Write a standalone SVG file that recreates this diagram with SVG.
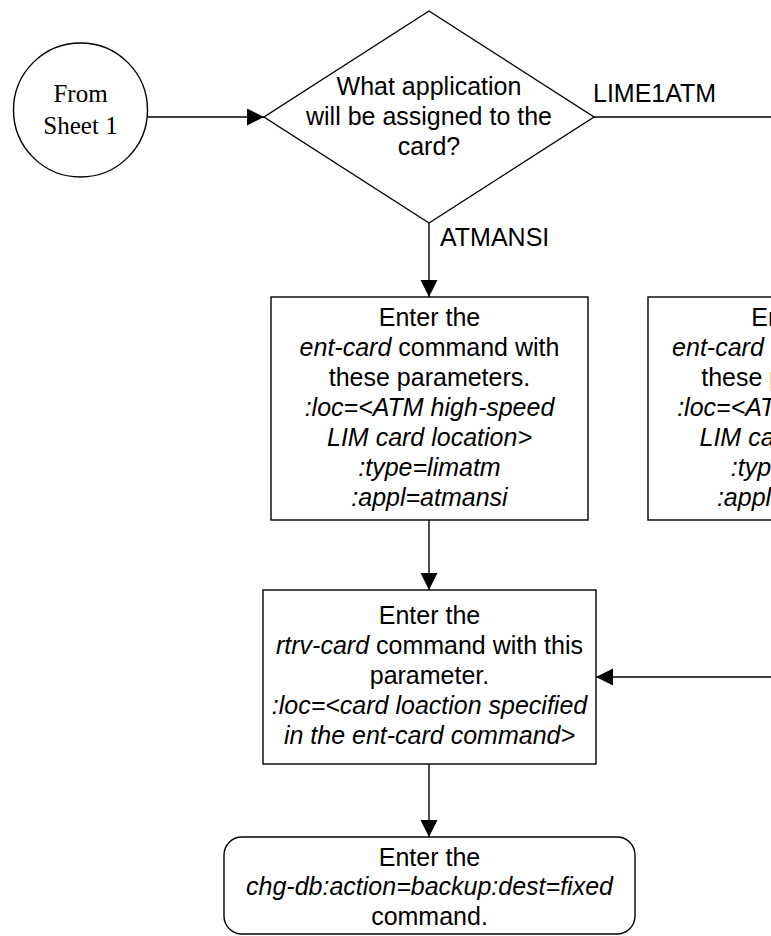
<svg xmlns="http://www.w3.org/2000/svg" width="771" height="936" viewBox="0 0 771 936">
<style>
.shape{fill:#fff;stroke:#000;stroke-width:1.4}
.conn{fill:none;stroke:#000;stroke-width:1.4}
.t{font-family:"Liberation Sans",Arial,sans-serif;font-size:25px;fill:#000;text-anchor:middle}
.lbl{font-family:"Liberation Sans",Arial,sans-serif;font-size:25px;fill:#000}
.serif{font-family:"Liberation Serif","Times New Roman",serif;font-size:25px;fill:#000;text-anchor:middle}
.i{font-style:italic}
</style>
<defs>
<marker id="arr" markerUnits="userSpaceOnUse" markerWidth="18" markerHeight="18" refX="17" refY="8.5" orient="auto">
<path d="M0,0 L17,8.5 L0,17 z" fill="#000"/>
</marker>
</defs>
<rect width="771" height="936" fill="#fff"/>
<g id="connectors">
<line class="conn" x1="148" y1="117" x2="264" y2="117" marker-end="url(#arr)"/>
<line class="conn" x1="594" y1="117" x2="771" y2="117"/>
<line class="conn" x1="429" y1="223" x2="429" y2="297" marker-end="url(#arr)"/>
<line class="conn" x1="429" y1="520" x2="429" y2="590" marker-end="url(#arr)"/>
<line class="conn" x1="771" y1="677" x2="596" y2="677" marker-end="url(#arr)"/>
<line class="conn" x1="429" y1="764" x2="429" y2="837" marker-end="url(#arr)"/>
<text class="lbl" x="593" y="102">LIME1ATM</text>
<text class="lbl" x="440" y="246">ATMANSI</text>
</g>
<g id="from-sheet1">
<circle class="shape" cx="80.5" cy="110" r="67"/>
<text class="serif" x="80.5" y="102">From</text>
<text class="serif" x="80.5" y="134">Sheet 1</text>
</g>
<g id="decision">
<polygon class="shape" points="429,11 594,117 429,223 264,117"/>
<text class="t" x="429" y="95">What application</text>
<text class="t" x="429" y="125">will be assigned to the</text>
<text class="t" x="429" y="155">card?</text>
</g>
<g id="ent-card-atmansi">
<rect class="shape" x="271" y="297" width="317" height="223"/>
<text class="t" x="429.5" y="326">Enter the</text>
<text class="t" x="429.5" y="356"><tspan class="i">ent-card</tspan> command with</text>
<text class="t" x="429.5" y="386">these parameters.</text>
<text class="t i" x="429.5" y="416">:loc=&lt;ATM high-speed</text>
<text class="t i" x="429.5" y="446">LIM card location&gt;</text>
<text class="t i" x="429.5" y="476">:type=limatm</text>
<text class="t i" x="429.5" y="506">:appl=atmansi</text>
</g>
<g id="ent-card-lime1atm">
<rect class="shape" x="648" y="297" width="317" height="223"/>
<text class="t" x="802" y="326">Enter the</text>
<text class="t" x="802" y="356"><tspan class="i">ent-card</tspan> command with</text>
<text class="t" x="802" y="386">these parameters.</text>
<text class="t i" x="802" y="416">:loc=&lt;ATM high-speed</text>
<text class="t i" x="802" y="446">LIM card location&gt;</text>
<text class="t i" x="802" y="476">:type=limatm</text>
<text class="t i" x="802" y="506">:appl=lime1atm</text>
</g>
<g id="rtrv-card">
<rect class="shape" x="263" y="590" width="333" height="174"/>
<text class="t" x="429.5" y="624">Enter the</text>
<text class="t" x="429.5" y="654"><tspan class="i">rtrv-card</tspan> command with this</text>
<text class="t" x="429.5" y="684">parameter.</text>
<text class="t i" x="429.5" y="714">:loc=&lt;card loaction specified</text>
<text class="t i" x="429.5" y="744">in the ent-card command&gt;</text>
</g>
<g id="chg-db">
<rect class="shape" x="224" y="837" width="411" height="97" rx="18" ry="18"/>
<text class="t" x="429.5" y="866">Enter the</text>
<text class="t i" x="429.5" y="895">chg-db:action=backup:dest=fixed</text>
<text class="t" x="429.5" y="925">command.</text>
</g>
</svg>
